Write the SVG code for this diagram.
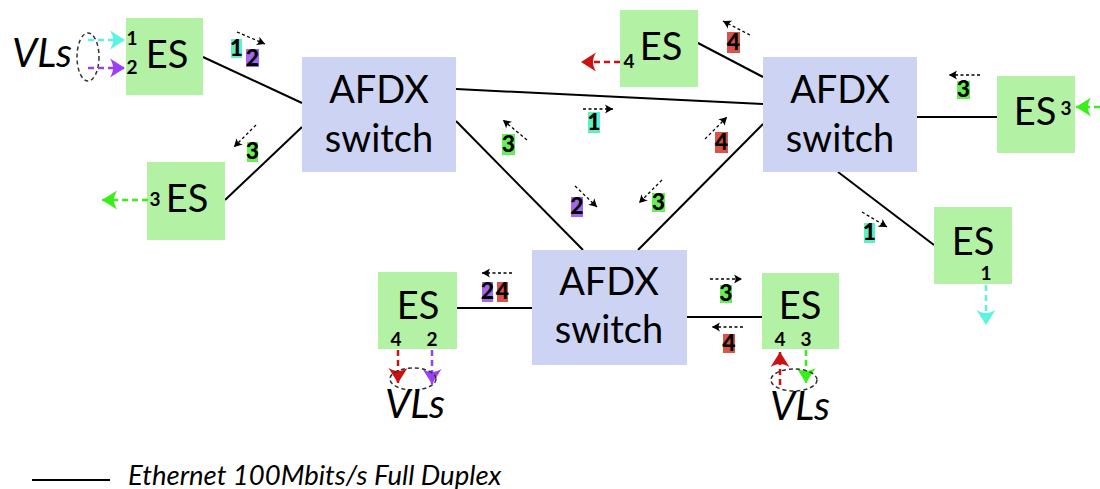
<svg xmlns="http://www.w3.org/2000/svg" width="1100" height="489" viewBox="0 0 1100 489">
<defs>
<style>
.es{fill:#b3f2a5}
.sw{fill:#cdd3f2}
.big{font-family:Lato,"Open Sans","Liberation Sans",sans-serif;font-size:38px;fill:#000;text-anchor:middle}
.sm{font-family:Lato,"Open Sans","Liberation Sans",sans-serif;font-size:19px;font-weight:bold;fill:#000;text-anchor:middle}
.lbl{font-family:Lato,"Open Sans","Liberation Sans",sans-serif;font-size:23px;font-weight:900;fill:#000;text-anchor:middle}
.vl{font-family:Lato,"Open Sans","Liberation Sans",sans-serif;font-size:40px;font-style:italic;fill:#000;text-anchor:middle}
.link{stroke:#000;stroke-width:2;fill:none}
.da{stroke:#000;stroke-width:1.3;stroke-dasharray:3,2.5;fill:none;marker-end:url(#mk)}
.ell{stroke:#333;stroke-width:1.5;stroke-dasharray:4,3;fill:none}
.cy{stroke:#5ff2e0;stroke-width:2.5;stroke-dasharray:6,4;fill:none;marker-end:url(#mcy)}
.pu{stroke:#9b3ff5;stroke-width:2.5;stroke-dasharray:6,4;fill:none;marker-end:url(#mpu)}
.gr{stroke:#3aee1a;stroke-width:2.5;stroke-dasharray:6,4;fill:none;marker-end:url(#mgr)}
.rd{stroke:#cc1111;stroke-width:2.5;stroke-dasharray:6,4;fill:none;marker-end:url(#mrd)}
.bcy{fill:#5ef0c6}.bpu{fill:#a266f0}.bgr{fill:#66f055}.brd{fill:#d9534b}
</style>
<marker id="mk" markerUnits="userSpaceOnUse" markerWidth="12" markerHeight="12" viewBox="-10 -6 12 12" refX="0" refY="0" orient="auto"><path d="M0,0 L-8,-4.5 C-6,-1.5 -6,1.5 -8,4.5 Z" fill="#000"/></marker>
<marker id="mcy" markerUnits="userSpaceOnUse" markerWidth="20" markerHeight="22" viewBox="-17 -11 20 22" refX="0" refY="0" orient="auto"><path d="M0,0 L-15,-9.5 C-11,-3 -11,3 -15,9.5 Z" fill="#5ff2e0"/></marker>
<marker id="mpu" markerUnits="userSpaceOnUse" markerWidth="20" markerHeight="22" viewBox="-17 -11 20 22" refX="0" refY="0" orient="auto"><path d="M0,0 L-15,-9.5 C-11,-3 -11,3 -15,9.5 Z" fill="#9b3ff5"/></marker>
<marker id="mgr" markerUnits="userSpaceOnUse" markerWidth="20" markerHeight="22" viewBox="-17 -11 20 22" refX="0" refY="0" orient="auto"><path d="M0,0 L-15,-9.5 C-11,-3 -11,3 -15,9.5 Z" fill="#3aee1a"/></marker>
<marker id="mrd" markerUnits="userSpaceOnUse" markerWidth="20" markerHeight="22" viewBox="-17 -11 20 22" refX="0" refY="0" orient="auto"><path d="M0,0 L-15,-9.5 C-11,-3 -11,3 -15,9.5 Z" fill="#cc1111"/></marker>
</defs>

<g id="connectors">
<line class="link" x1="203" y1="57" x2="302" y2="103"/>
<line class="link" x1="225" y1="200" x2="302" y2="127"/>
<line class="link" x1="456" y1="89" x2="763" y2="104"/>
<line class="link" x1="456" y1="121" x2="583" y2="250"/>
<line class="link" x1="763" y1="124" x2="638" y2="250"/>
<line class="link" x1="698" y1="43" x2="763" y2="77"/>
<line class="link" x1="917" y1="117" x2="997" y2="117"/>
<line class="link" x1="838" y1="172" x2="934" y2="245"/>
<line class="link" x1="457" y1="308" x2="532" y2="308"/>
<line class="link" x1="687" y1="317" x2="762" y2="317"/>
</g>

<g id="switch1"><rect class="sw" x="302" y="57" width="154" height="115"/><text class="big" x="379" y="103">AFDX</text><text class="big" x="379" y="152">switch</text></g>
<g id="switch2"><rect class="sw" x="763" y="57" width="154" height="115"/><text class="big" x="840" y="103">AFDX</text><text class="big" x="840" y="152">switch</text></g>
<g id="switch3"><rect class="sw" x="532" y="250" width="155" height="115"/><text class="big" x="609" y="295">AFDX</text><text class="big" x="609" y="343">switch</text></g>

<g id="es1">
<rect class="es" x="126" y="18" width="77" height="77"/>
<text class="big" x="167" y="68">ES</text>
<text class="sm" x="132" y="45">1</text>
<text class="sm" x="132" y="74">2</text>
<ellipse class="ell" cx="88" cy="57" rx="11" ry="24"/>
<line class="cy" x1="88" y1="40" x2="125" y2="40"/>
<line class="pu" x1="88" y1="68" x2="125" y2="68"/>
<text class="vl" x="42" y="67">VLs</text>
</g>

<g id="es2">
<rect class="es" x="147" y="162" width="78" height="78"/>
<text class="big" x="187" y="212">ES</text>
<text class="sm" x="155" y="206">3</text>
<line class="gr" x1="148" y1="200" x2="102" y2="200"/>
</g>

<g id="es4">
<rect class="es" x="620" y="10" width="78" height="77"/>
<text class="big" x="661" y="60">ES</text>
<text class="sm" x="629" y="68">4</text>
<line class="rd" x1="620" y1="62" x2="581" y2="62"/>
</g>

<g id="es3">
<rect class="es" x="997" y="76" width="78" height="77"/>
<text class="big" x="1035" y="125">ES</text>
<text class="sm" x="1066" y="115">3</text>
<line class="gr" x1="1100" y1="107" x2="1076" y2="107"/>
</g>

<g id="es5">
<rect class="es" x="934" y="207" width="78" height="77"/>
<text class="big" x="973" y="255">ES</text>
<text class="sm" x="986" y="280">1</text>
<line class="cy" x1="986" y1="285" x2="986" y2="325"/>
</g>

<g id="es6">
<rect class="es" x="378" y="272" width="79" height="77"/>
<text class="big" x="418" y="319">ES</text>
<text class="sm" x="396" y="346">4</text>
<text class="sm" x="432" y="346">2</text>
<line class="rd" x1="398" y1="350" x2="398" y2="383"/>
<line class="pu" x1="432" y1="350" x2="432" y2="384"/>
<ellipse class="ell" cx="413" cy="379" rx="23" ry="11"/>
<text class="vl" x="415" y="418">VLs</text>
</g>

<g id="es7">
<rect class="es" x="762" y="273" width="77" height="76"/>
<text class="big" x="800" y="319">ES</text>
<text class="sm" x="780" y="346">4</text>
<text class="sm" x="806" y="346">3</text>
<line class="rd" x1="780" y1="385" x2="780" y2="352"/>
<line class="gr" x1="806" y1="350" x2="806" y2="383"/>
<ellipse class="ell" cx="794" cy="380" rx="23" ry="11"/>
<text class="vl" x="800" y="420">VLs</text>
</g>

<g id="labels">
<rect class="bcy" x="231" y="39" width="11" height="19"/><text class="lbl" x="236.5" y="56">1</text>
<rect class="bpu" x="246" y="49" width="13" height="18"/><text class="lbl" x="252.5" y="66">2</text>
<line class="da" x1="237" y1="32" x2="265" y2="44"/>

<rect class="bgr" x="247" y="142" width="11" height="20"/><text class="lbl" x="252.5" y="159">3</text>
<line class="da" x1="256" y1="125" x2="234" y2="147"/>

<rect class="brd" x="727" y="32" width="13" height="21"/><text class="lbl" x="733.5" y="50">4</text>
<line class="da" x1="750" y1="35" x2="723" y2="21"/>

<rect class="bgr" x="957" y="81" width="13" height="18"/><text class="lbl" x="963.5" y="97">3</text>
<line class="da" x1="980" y1="75" x2="949" y2="75"/>

<rect class="bcy" x="588" y="112" width="12" height="21"/><text class="lbl" x="594" y="130">1</text>
<line class="da" x1="583" y1="109" x2="613" y2="109"/>

<rect class="bgr" x="502" y="134" width="13" height="21"/><text class="lbl" x="508.5" y="152">3</text>
<line class="da" x1="527" y1="140" x2="503" y2="120"/>

<rect class="brd" x="715" y="132" width="13" height="21"/><text class="lbl" x="721.5" y="150">4</text>
<line class="da" x1="705" y1="139" x2="727" y2="117"/>

<rect class="bpu" x="571" y="197" width="12" height="20"/><text class="lbl" x="577" y="214">2</text>
<line class="da" x1="575" y1="186" x2="597" y2="207"/>

<rect class="bgr" x="652" y="193" width="13" height="19"/><text class="lbl" x="658.5" y="210">3</text>
<line class="da" x1="662" y1="180" x2="639" y2="203"/>

<rect class="bcy" x="864" y="223" width="11" height="20"/><text class="lbl" x="869.5" y="240">1</text>
<line class="da" x1="862" y1="212" x2="887" y2="227"/>

<rect class="bpu" x="482" y="282" width="11" height="20"/><text class="lbl" x="487.5" y="299">2</text>
<rect class="brd" x="497" y="282" width="11" height="20"/><text class="lbl" x="502.5" y="299">4</text>
<line class="da" x1="512" y1="273" x2="482" y2="273"/>

<rect class="bgr" x="720" y="285" width="12" height="18"/><text class="lbl" x="726" y="301">3</text>
<line class="da" x1="710" y1="279" x2="742" y2="279"/>

<rect class="brd" x="723" y="334" width="12" height="19"/><text class="lbl" x="729" y="351">4</text>
<line class="da" x1="743" y1="327" x2="712" y2="327"/>
</g>

<g id="legend">
<line class="link" x1="32" y1="480" x2="110" y2="480"/>
<text x="128" y="485" font-family="Lato,'Open Sans','Liberation Sans',sans-serif" font-size="27.5" font-style="italic" fill="#000">Ethernet 100Mbits/s Full Duplex</text>
</g>
</svg>
